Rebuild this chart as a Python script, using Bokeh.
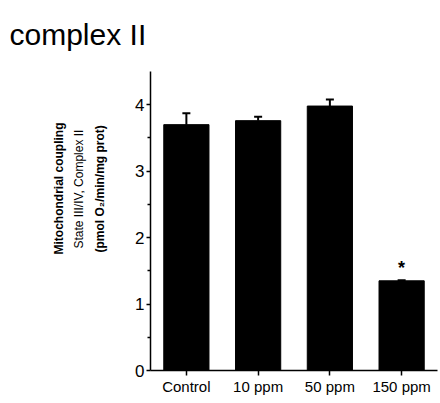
from bokeh.core.properties import value
from bokeh.embed import file_html
from bokeh.models import (ColumnDataSource, FactorRange, FixedTicker,
                          Range1d, TeeHead, Title, Whisker)
from bokeh.plotting import figure
from bokeh.resources import INLINE

# Mitochondrial coupling (State III/IV, complex II) per exposure group
groups = ["Control", "10 ppm", "50 ppm", "150 ppm"]
coupling = [3.70, 3.76, 3.98, 1.35]
sem = [0.17, 0.06, 0.10, 0.01]
marks = ["", "", "", "*"]
y_ticks = [0, 1, 2, 3, 4]
y_minor = [0.5, 1.5, 2.5, 3.5]

FONT = "Liberation Sans"

src = ColumnDataSource(dict(
    group=groups,
    mean=coupling,
    upper=[m + e for m, e in zip(coupling, sem)],
    mark=marks,
))

p = figure(
    width=440, height=403,
    x_range=FactorRange(factors=groups, range_padding=0),
    y_range=Range1d(0, 4.5),
    output_backend="svg", toolbar_location=None,
    min_border_left=150, min_border_right=3,
    min_border_top=71, min_border_bottom=33,
)
p.outline_line_color = None
p.xgrid.visible = False
p.ygrid.visible = False
p.background_fill_color = "white"
p.border_fill_color = "white"

p.vbar(x="group", top="mean", width=0.63, source=src,
       fill_color="black", line_color="black")

err = Whisker(base="group", lower="mean", upper="upper", source=src,
              line_color="black", line_width=2,
              upper_head=TeeHead(size=8, line_color="black", line_width=2),
              lower_head=None)
p.add_layout(err)

p.text(x="group", y="upper", text="mark", source=src,
       text_font=value(FONT), text_font_size="18px", text_font_style="bold",
       text_align="center", text_baseline="bottom", y_offset=-2)

# axes
for ax in (p.xaxis[0], p.yaxis[0]):
    ax.axis_line_width = 1.5
    ax.axis_line_color = "black"
    ax.major_tick_line_width = 1.5
    ax.major_tick_line_color = "black"
    ax.major_tick_in = 0
    ax.major_label_text_font = FONT
    ax.major_label_text_color = "black"

p.xaxis.major_tick_out = 5
p.xaxis.minor_tick_line_color = None
p.xaxis.major_label_text_font_size = "15px"
p.xaxis.major_label_standoff = 2

p.yaxis.ticker = FixedTicker(ticks=y_ticks, minor_ticks=y_minor)
p.yaxis.major_tick_out = 4
p.yaxis.minor_tick_out = 3
p.yaxis.minor_tick_in = 0
p.yaxis.minor_tick_line_width = 1.5
p.yaxis.minor_tick_line_color = "black"
p.yaxis.major_label_text_font_size = "17px"
p.yaxis.major_label_standoff = 2


def spacer(gap):
    """Blank side panel used to push the outer titles away from the frame."""
    return Title(text=" ", text_font_size="1px", standoff=gap)


# gap between the tick labels and the stacked axis title
p.add_layout(spacer(21), "left")

# three-line y-axis title, innermost line first; each line starts
# `start` px above the frame bottom so that the block is centred near y=2.7
ylabel_lines = [
    ("(pmol O\u2082/min/mg prot)", "bold", 4, 118),
    ("State III/IV, Complex II", "normal", 5, 122),
    ("Mitochondrial coupling", "bold", 4, 116),
]
for txt, style, gap, start in ylabel_lines:
    p.add_layout(Title(
        text=txt, align="left", offset=start, standoff=gap,
        text_font=FONT, text_font_size="12px", text_font_style=style,
        text_color="black",
    ), "left")

# gap between the frame top and the panel title
p.add_layout(spacer(18), "above")

p.title.text = "complex II"
p.title.align = "left"
p.title.offset = -141
p.title.standoff = 0
p.title.text_font = FONT
p.title.text_font_size = "30px"
p.title.text_font_style = "normal"
p.title.text_color = "black"

open("out.html", "w").write(file_html(p, INLINE))
